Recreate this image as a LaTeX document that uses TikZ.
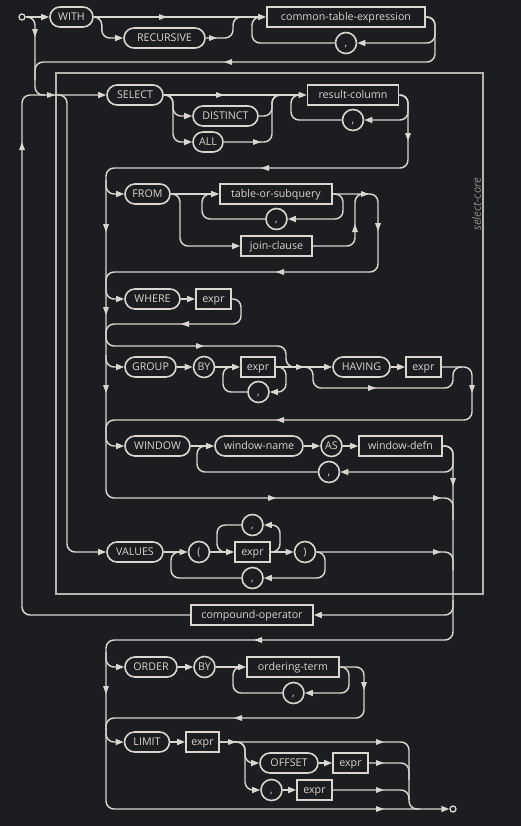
\documentclass[tikz,border=0pt]{standalone}
\usepackage{fontspec}
\setmainfont{Open Sans}
\usetikzlibrary{arrows.meta}
\definecolor{bg}{HTML}{1C1D20}
\definecolor{ink}{HTML}{D9D6D0}
\definecolor{frame}{HTML}{B7B4AF}
\definecolor{dim}{HTML}{8F8D89}
\tikzset{
    every node/.style={draw=ink, text=ink, line width=1.2pt, minimum height=15pt,
    	inner xsep=2pt, inner ysep=0pt, text height=5.8pt, text depth=0pt,
    	font=\fontsize{8}{10}\selectfont}
}
\tikzset{
    kw/.style={rounded corners=7.5pt},
    nt/.style={rectangle},
    ch/.style={circle, minimum size=15.75pt, inner sep=0pt},
    dot/.style={circle, minimum size=4.5pt, inner sep=0pt, line width=1pt,
    	text height=0pt},
    wd/.style={minimum width=#1*0.75pt},
    rail/.style={draw=ink, line width=1.1pt, rounded corners=6pt},
    arrowhead/.pic={\fill[ink] (4,0) -- (-4,-3) -- (-4,3) -- cycle;}
}

\begin{document}
\begin{tikzpicture}[x=0.75pt, y=-0.75pt, >={Triangle[length=6pt,width=4.5pt]}]
	\fill[bg] (0,0) rectangle (521,826);
	\useasboundingbox (0,0) rectangle (521,826);
	\draw[frame, line width=1.8pt] (56,73) rectangle (483,594);
	\node[draw=none, text=dim, rotate=90, font=\itshape\fontsize{8.5}{9}\selectfont] (corelabel) at (477,204) {select-core};

	\node[dot] (start) at (22,17) {};
	\node[kw, wd=43] (with) at (71.5,17) {WITH};
	\node[kw, wd=81] (recursive) at (164.5,38) {RECURSIVE};
	\node[nt, wd=158] (cte) at (346,17) {common-table-expression};
	\node[ch] (ctecomma) at (346,43) {,};

	\node[kw, wd=56] (select) at (135,95) {SELECT};
	\node[kw, wd=65] (distinct) at (225.5,116) {DISTINCT};
	\node[kw, wd=30] (all) at (208,142) {ALL};
	\node[nt, wd=91] (resultcol) at (353,95) {result-column};
	\node[ch] (rccomma) at (353,120) {,};

	\node[kw, wd=45] (from) at (147.5,194) {FROM};
	\node[nt, wd=112] (tos) at (276,194) {table-or-subquery};
	\node[ch] (toscomma) at (276.5,219) {,};
	\node[nt, wd=71] (join) at (276.5,246) {join-clause};

	\node[kw, wd=55] (where) at (152.5,299) {WHERE};
	\node[nt, wd=35] (wexpr) at (213.5,299) {expr};

	\node[kw, wd=51] (group) at (150.5,367) {GROUP};
	\node[ch] (gby) at (204,367) {BY};
	\node[nt, wd=34] (gexpr) at (258,367) {expr};
	\node[ch] (gcomma) at (258.5,392) {,};
	\node[kw, wd=57] (having) at (361.5,367) {HAVING};
	\node[nt, wd=35] (hexpr) at (423.5,367) {expr};

	\node[kw, wd=65] (window) at (157.5,446) {WINDOW};
	\node[kw, wd=88] (winname) at (259,446) {window-name};
	\node[ch] (as) at (331.5,446) {AS};
	\node[nt, wd=83] (windefn) at (400.5,446) {window-defn};
	\node[ch] (wcomma) at (329,472) {,};

	\node[kw, wd=56] (values) at (135,552) {VALUES};
	\node[ch] (lparen) at (199,552) {(};
	\node[nt, wd=35] (vexpr) at (252.5,552) {expr};
	\node[ch] (incomma) at (252.5,525) {,};
	\node[ch] (rparen) at (305,552) {)};
	\node[ch] (outcomma) at (252.5,578) {,};

	\node[nt, wd=122] (compop) at (252,615) {compound-operator};

	\node[kw, wd=52] (order) at (151,667) {ORDER};
	\node[ch] (oby) at (204.5,667) {BY};
	\node[nt, wd=92] (oterm) at (293,667) {ordering-term};
	\node[ch] (ocomma) at (293.5,693) {,};

	\node[kw, wd=45] (limit) at (147,742) {LIMIT};
	\node[nt, wd=33] (lexpr) at (202.5,742) {expr};
	\node[kw, wd=58] (offset) at (289,763) {OFFSET};
	\node[nt, wd=35] (oexpr) at (350.5,763) {expr};
	\node[ch] (lcomma) at (271.5,790) {,};
	\node[nt, wd=35] (cexpr) at (314.5,790) {expr};
	\node[dot] (end) at (453,809) {};

	% with clause
	\draw[rail, ->] (start) -- (with);
	\draw[rail, ->] (with) -- (cte);
	\draw[rail, ->] (with.east) -- ++(8,0) |- (recursive.west);
	\draw[rail] (recursive.east) -| (233,17) -- (245,17);
	\draw[rail, ->] (cte.east) -- (435,17) |- (ctecomma.east);
	\draw[rail] (ctecomma.west) -| (252,17) -- (262,17);
	\draw[rail] (cte.east) -- (435,17) -- (435,62) -- (35,62) -- (35,80);

	% select
	\draw[rail, ->] (start) -- (35,17) -- (35,95) -- (select.west);
	\draw[rail] (compop.west) -- (22,615) -- (22,95) -- (45,95);
	\draw[rail, ->] (55,95) -- (67,95) -- (67,552) -- (values.west);
	\draw[rail, ->] (select) -- (resultcol);
	\draw[rail, ->] (select.east) -- (173,95) |- (distinct.west);
	\draw[rail, ->] (select.east) -- (173,95) |- (all.west);
	\draw[rail] (distinct.east) -| (272,95) -- (282,95);
	\draw[rail] (all.east) -| (272,95) -- (282,95);
	\draw[rail, ->] (resultcol.east) -- (408,95) |- (rccomma.east);
	\draw[rail] (rccomma.west) -| (291,95) -- (300,95);
	\draw[rail] (resultcol.east) -- (408,95) -- (408,168) -- (106,168) -- (106,498) -- (453,498) -- (453,520);

	% from
	\draw[rail, ->] (106,180) |- (from.west);
	\draw[rail, ->] (from) -- (tos);
	\draw[rail, ->] (from.east) -- (180,194) |- (join.west);
	\draw[rail, ->] (tos.east) -- (343,194) |- (toscomma.east);
	\draw[rail] (toscomma.west) -| (202,194) -- (212,194);
	\draw[rail] (tos.east) -- (378,194) -- (378,272) -- (106,272) -- (106,285);
	\draw[rail] (join.east) -| (355,194) -- (365,194);

	% where
	\draw[rail, ->] (106,285) |- (where.west);
	\draw[rail, ->] (where) -- (wexpr);
	\draw[rail] (wexpr.east) -- (241,299) -- (241,324) -- (106,324) -- (106,336);

	% group by, having
	\draw[rail] (106,334) |- (286,346) -- (286,367) -- (298,367);
	\draw[rail, ->] (106,355) |- (group.west);
	\draw[rail, ->] (group) -- (gby);
	\draw[rail, ->] (gby) -- (gexpr);
	\draw[rail, ->] (gexpr.east) -- (286,367) |- (gcomma.east);
	\draw[rail] (gcomma.west) -| (223,367) -- (233,367);
	\draw[rail, ->] (gexpr) -- (having);
	\draw[rail] (303,367) -- (313,367) -- (313,388) -- (453,388) -- (453,367) -- (462,367);
	\draw[rail, ->] (having) -- (hexpr);
	\draw[rail] (hexpr.east) -- (472,367) -- (472,420) -- (106,420) -- (106,432);

	% window
	\draw[rail, ->] (106,432) |- (window.west);
	\draw[rail, ->] (window) -- (winname);
	\draw[rail, ->] (winname) -- (as);
	\draw[rail, ->] (as) -- (windefn);
	\draw[rail, ->] (windefn.east) -- (453,446) |- (wcomma.east);
	\draw[rail] (wcomma.west) -| (197,446) -- (206,446);
	\draw[rail, ->] (windefn.east) -- (453,446) -- (453,640) -- (106,640) -- (106,809) -- (end.west);

	% values
	\draw[rail, ->] (values) -- (lparen);
	\draw[rail, ->] (lparen) -- (vexpr);
	\draw[rail, ->] (vexpr) -- (rparen);
	\draw[rail, ->] (vexpr.east) -- (280,552) |- (incomma.east);
	\draw[rail] (incomma.west) -| (217,552) -- (226,552);
	\draw[rail, ->] (rparen.east) -- (325,552) |- (outcomma.east);
	\draw[rail] (outcomma.west) -| (171,552) -- (180,552);
	\draw[rail] (rparen.east) -- (453,552) -- (453,570);
	\draw[rail, ->] (453,600) -- (453,615) -- (compop.east);

	% order by
	\draw[rail, ->] (106,652) |- (order.west);
	\draw[rail, ->] (order) -- (oby);
	\draw[rail, ->] (oby) -- (oterm);
	\draw[rail, ->] (oterm.east) -- (349,667) |- (ocomma.east);
	\draw[rail] (ocomma.west) -| (233,667) -- (242,667);
	\draw[rail] (oterm.east) -- (364,667) -- (364,718) -- (106,718) -- (106,730);

	% limit
	\draw[rail, ->] (106,728) |- (limit.west);
	\draw[rail, ->] (limit) -- (lexpr);
	\draw[rail] (lexpr.east) -- (409,742) -- (409,809) -- (420,809);
	\draw[rail, ->] (lexpr.east) -- (245,742) |- (offset.west);
	\draw[rail, ->] (lexpr.east) -- (245,742) |- (lcomma.west);
	\draw[rail, ->] (offset) -- (oexpr);
	\draw[rail] (oexpr.east) -| (409,780);
	\draw[rail, ->] (lcomma) -- (cexpr);
	\draw[rail] (cexpr.east) -| (409,800);

	% arrowheads along the rails
	\foreach \x/\y in {163/17, 213/38, 51/95, 220/95, 257/142, 365/194, 200/346,
		300/367, 372/388, 272/498, 437/498, 437/552, 232/742, 380/742, 380/763,
		380/790, 380/809}
		\pic at (\x,\y) {arrowhead};
	\foreach \x/\y in {228/62, 265/168, 280/272, 185/324, 280/420, 258/640, 238/718}
		\pic[rotate=180] at (\x,\y) {arrowhead};
	\foreach \x/\y in {35/33, 408/137, 106/228, 378/227, 106/311, 106/389, 472/389,
		453/482, 364/686, 106/690}
		\pic[rotate=-90] at (\x,\y) {arrowhead};
	\foreach \x/\y in {22/146, 355/228}
		\pic[rotate=90] at (\x,\y) {arrowhead};
\end{tikzpicture}
\end{document}
